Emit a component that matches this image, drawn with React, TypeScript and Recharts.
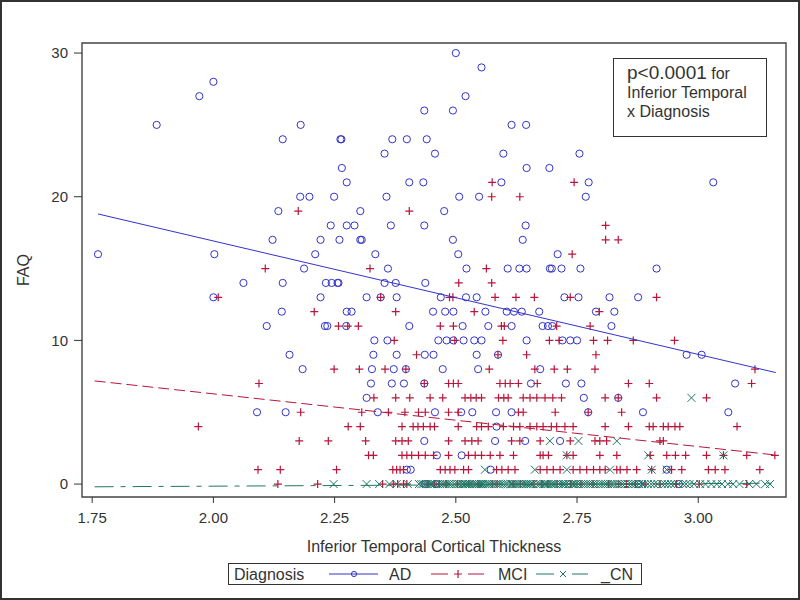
import React from "react";
import { ComposedChart, Scatter, XAxis, YAxis, ReferenceArea, Legend, Label } from "recharts";

const FONT = '"Liberation Sans", Arial, sans-serif';
const INK = "#333";
const AD_COLOR = "#3333CC";
const MCI_COLOR = "#B8163A";
const CN_COLOR = "#1E7766";

// axis setup (thickness in mm, FAQ score)
const xDomain: [number, number] = [1.729, 3.181];
const yDomain: [number, number] = [-0.9, 30.7];
const xTicks = [1.75, 2.0, 2.25, 2.5, 2.75, 3.0];
const yTicks = [0, 10, 20, 30];

// [inferior temporal thickness, FAQ], grouped by FAQ row
const adPoints: [number, number][] = [
  [2.5, 30], [2.553, 29], [2.0, 28], [1.971, 27], [2.52, 27], [2.435, 26], [2.494, 26],
  [1.883, 25], [2.18, 25], [2.615, 25], [2.645, 25],
  [2.143, 24], [2.262, 24], [2.264, 24], [2.369, 24], [2.399, 24], [2.44, 24],
  [2.353, 23], [2.457, 23], [2.598, 23], [2.755, 23],
  [2.265, 22], [2.646, 22], [2.693, 22],
  [2.275, 21], [2.404, 21], [2.433, 21], [2.594, 21], [2.774, 21], [3.031, 21],
  [2.179, 20], [2.198, 20], [2.249, 20], [2.357, 20], [2.507, 20], [2.548, 20], [2.768, 20],
  [2.134, 19], [2.303, 19], [2.476, 19],
  [2.242, 18], [2.275, 18], [2.291, 18], [2.366, 18], [2.435, 18], [2.644, 18],
  [2.122, 17], [2.221, 17], [2.26, 17], [2.303, 17], [2.306, 17], [2.494, 17], [2.638, 17],
  [1.762, 16], [2.002, 16], [2.21, 16], [2.334, 16], [2.505, 16], [2.71, 16],
  [2.187, 15], [2.36, 15], [2.522, 15], [2.607, 15], [2.631, 15], [2.646, 15], [2.694, 15],
  [2.698, 15], [2.718, 15], [2.757, 15], [2.914, 15],
  [2.062, 14], [2.143, 14], [2.232, 14], [2.244, 14], [2.256, 14], [2.258, 14], [2.353, 14],
  [2.376, 14], [2.437, 14],
  [2.0, 13], [2.221, 13], [2.316, 13], [2.345, 13], [2.378, 13], [2.469, 13], [2.521, 13],
  [2.543, 13], [2.724, 13], [2.753, 13], [2.817, 13], [2.876, 13],
  [2.141, 12], [2.275, 12], [2.285, 12], [2.453, 12], [2.478, 12], [2.495, 12], [2.561, 12],
  [2.605, 12], [2.62, 12], [2.636, 12], [2.672, 12], [2.789, 12], [2.827, 12],
  [2.11, 11], [2.23, 11], [2.235, 11], [2.274, 11], [2.404, 11], [2.514, 11], [2.567, 11],
  [2.615, 11], [2.679, 11], [2.69, 11], [2.699, 11], [2.821, 11],
  [2.332, 10], [2.359, 10], [2.464, 10], [2.481, 10], [2.495, 10], [2.516, 10], [2.538, 10],
  [2.553, 10], [2.646, 10], [2.72, 10], [2.736, 10], [2.75, 10],
  [2.157, 9], [2.33, 9], [2.378, 9], [2.436, 9], [2.454, 9], [2.543, 9], [2.587, 9],
  [2.976, 9], [3.007, 9],
  [2.184, 8], [2.327, 8], [2.372, 8], [2.397, 8], [2.473, 8], [2.546, 8], [2.674, 8],
  [2.325, 7], [2.368, 7], [2.393, 7], [2.435, 7], [2.655, 7], [2.727, 7], [2.759, 7], [3.076, 7],
  [2.316, 6], [2.764, 6], [2.835, 6],
  [2.09, 5], [2.149, 5], [2.339, 5], [2.457, 5], [2.511, 5], [2.534, 5], [2.583, 5],
  [2.615, 5], [2.773, 5], [2.886, 5], [3.062, 5],
  [2.584, 4], [2.435, 3], [2.581, 3], [2.643, 3], [2.715, 3], [2.461, 2], [2.512, 2],
  [2.399, 1], [2.407, 1], [2.572, 1], [2.935, 1],
  [2.437, 0], [2.459, 0], [2.877, 0], [2.96, 0],
];

const mciPoints: [number, number][] = [
  [2.575, 21], [2.744, 21], [2.574, 20], [2.632, 20], [2.175, 19], [2.404, 19], [2.809, 18],
  [2.809, 17], [2.835, 17], [2.74, 16], [2.107, 15], [2.323, 15], [2.563, 15],
  [2.506, 14], [2.574, 14],
  [2.01, 13], [2.345, 13], [2.487, 13], [2.494, 13], [2.581, 13], [2.624, 13], [2.662, 13],
  [2.736, 13], [2.914, 13],
  [2.208, 12], [2.376, 12], [2.538, 12], [2.796, 12],
  [2.258, 11], [2.277, 11], [2.299, 11], [2.468, 11], [2.495, 11], [2.594, 11], [2.6, 11],
  [2.708, 11], [2.777, 11],
  [2.373, 10], [2.498, 10], [2.597, 10], [2.693, 10], [2.713, 10], [2.784, 10], [2.813, 10],
  [2.866, 10], [2.951, 10],
  [2.419, 9], [2.587, 9], [2.646, 9], [2.789, 9],
  [2.249, 8], [2.301, 8], [2.354, 8], [2.397, 8], [2.569, 8], [2.663, 8], [2.703, 8],
  [2.73, 8], [2.787, 8], [3.117, 8],
  [2.094, 7], [2.435, 7], [2.485, 7], [2.495, 7], [2.505, 7], [2.591, 7], [2.602, 7],
  [2.612, 7], [2.629, 7], [2.668, 7], [2.856, 7], [2.899, 7], [3.11, 7],
  [2.331, 6], [2.376, 6], [2.405, 6], [2.447, 6], [2.473, 6], [2.519, 6], [2.531, 6],
  [2.542, 6], [2.553, 6], [2.588, 6], [2.599, 6], [2.608, 6], [2.639, 6], [2.653, 6],
  [2.667, 6], [2.684, 6], [2.7, 6], [2.718, 6], [2.808, 6], [2.835, 6], [2.914, 6], [3.017, 6],
  [2.18, 5], [2.306, 5], [2.361, 5], [2.395, 5], [2.423, 5], [2.437, 5], [2.485, 5],
  [2.505, 5], [2.629, 5], [2.639, 5], [2.705, 5], [2.773, 5], [2.842, 5],
  [1.969, 4], [2.278, 4], [2.303, 4], [2.389, 4], [2.412, 4], [2.422, 4], [2.433, 4],
  [2.447, 4], [2.456, 4], [2.505, 4], [2.543, 4], [2.553, 4], [2.567, 4], [2.598, 4],
  [2.619, 4], [2.632, 4], [2.653, 4], [2.667, 4], [2.68, 4], [2.697, 4], [2.708, 4],
  [2.725, 4], [2.742, 4], [2.808, 4], [2.856, 4], [2.899, 4], [2.907, 4], [2.928, 4],
  [2.938, 4], [2.952, 4], [2.962, 4], [3.08, 4],
  [2.177, 3], [2.237, 3], [2.314, 3], [2.376, 3], [2.389, 3], [2.402, 3], [2.485, 3],
  [2.519, 3], [2.533, 3], [2.546, 3], [2.615, 3], [2.632, 3], [2.674, 3], [2.736, 3],
  [2.787, 3], [2.797, 3], [2.811, 3], [2.921, 3], [2.928, 3],
  [2.32, 2], [2.33, 2], [2.389, 2], [2.399, 2], [2.409, 2], [2.423, 2], [2.437, 2],
  [2.454, 2], [2.485, 2], [2.526, 2], [2.54, 2], [2.553, 2], [2.571, 2], [2.591, 2],
  [2.619, 2], [2.674, 2], [2.68, 2], [2.691, 2], [2.729, 2], [2.742, 2], [2.797, 2],
  [2.832, 2], [2.901, 2], [2.935, 2], [2.953, 2], [2.974, 2], [3.017, 2], [3.052, 2],
  [3.1, 2], [3.158, 2],
  [2.092, 1], [2.138, 1], [2.254, 1], [2.37, 1], [2.378, 1], [2.385, 1], [2.392, 1],
  [2.468, 1], [2.478, 1], [2.488, 1], [2.498, 1], [2.516, 1], [2.526, 1], [2.584, 1],
  [2.595, 1], [2.608, 1], [2.622, 1], [2.674, 1], [2.688, 1], [2.701, 1], [2.715, 1],
  [2.742, 1], [2.756, 1], [2.77, 1], [2.784, 1], [2.797, 1], [2.808, 1], [2.832, 1],
  [2.839, 1], [2.853, 1], [2.873, 1], [2.904, 1], [2.945, 1], [2.966, 1], [3.021, 1],
  [3.035, 1], [3.055, 1], [3.127, 1],
  [2.133, 0], [2.215, 0], [2.349, 0], [2.371, 0], [2.38, 0], [2.392, 0], [2.399, 0],
  [2.441, 0], [2.456, 0], [2.466, 0], [2.48, 0], [2.503, 0], [2.527, 0], [2.546, 0],
  [2.575, 0], [2.585, 0], [2.618, 0], [2.633, 0], [2.661, 0], [2.677, 0], [2.69, 0],
  [2.709, 0], [2.737, 0], [2.758, 0], [2.783, 0], [2.815, 0], [2.836, 0], [2.852, 0],
  [2.87, 0], [2.89, 0], [2.921, 0], [2.955, 0], [3.002, 0], [3.1, 0],
];

const cnPoints: [number, number][] = [
  [2.986, 6], [2.694, 3], [2.753, 3], [2.832, 3], [2.729, 2], [2.897, 2], [3.052, 2],
  [2.56, 1], [2.663, 1], [2.729, 1], [2.818, 1], [2.904, 1], [2.935, 1],
  [2.248, 0], [2.316, 0], [2.342, 0], [2.363, 0], [2.378, 0], [2.401, 0], [2.424, 0],
  [2.429, 0], [2.433, 0], [2.438, 0], [2.442, 0], [2.447, 0], [2.451, 0], [2.456, 0],
  [2.463, 0], [2.468, 0], [2.473, 0], [2.477, 0], [2.481, 0], [2.486, 0], [2.491, 0],
  [2.497, 0], [2.503, 0], [2.507, 0], [2.512, 0], [2.515, 0], [2.519, 0], [2.522, 0],
  [2.526, 0], [2.529, 0], [2.533, 0], [2.537, 0], [2.541, 0], [2.544, 0], [2.548, 0],
  [2.552, 0], [2.556, 0], [2.561, 0], [2.565, 0], [2.569, 0], [2.574, 0], [2.579, 0],
  [2.584, 0], [2.588, 0], [2.593, 0], [2.598, 0], [2.603, 0], [2.607, 0], [2.613, 0],
  [2.616, 0], [2.619, 0], [2.623, 0], [2.627, 0], [2.631, 0], [2.636, 0], [2.641, 0],
  [2.645, 0], [2.648, 0], [2.652, 0], [2.655, 0], [2.659, 0], [2.666, 0], [2.671, 0],
  [2.675, 0], [2.681, 0], [2.684, 0], [2.687, 0], [2.691, 0], [2.696, 0], [2.699, 0],
  [2.702, 0], [2.706, 0], [2.712, 0], [2.717, 0], [2.721, 0], [2.724, 0], [2.727, 0],
  [2.733, 0], [2.739, 0], [2.742, 0], [2.745, 0], [2.748, 0], [2.753, 0], [2.758, 0],
  [2.763, 0], [2.768, 0], [2.773, 0], [2.778, 0], [2.783, 0], [2.788, 0], [2.794, 0],
  [2.799, 0], [2.804, 0], [2.809, 0], [2.814, 0], [2.819, 0], [2.823, 0], [2.827, 0],
  [2.833, 0], [2.838, 0], [2.843, 0], [2.849, 0], [2.855, 0], [2.861, 0], [2.866, 0],
  [2.871, 0], [2.878, 0], [2.884, 0], [2.889, 0], [2.896, 0], [2.903, 0], [2.909, 0],
  [2.916, 0], [2.925, 0], [2.931, 0], [2.937, 0], [2.944, 0], [2.951, 0], [2.958, 0],
  [2.969, 0], [2.975, 0], [2.982, 0], [2.991, 0], [3.004, 0], [3.015, 0], [3.027, 0],
  [3.038, 0], [3.049, 0], [3.061, 0], [3.072, 0], [3.085, 0], [3.105, 0], [3.12, 0],
  [3.138, 0], [3.148, 0],
];

// fitted regression lines (end points as drawn)
const adFit: [number, number][] = [[1.762, 18.8], [3.16, 7.76]];
const mciFit: [number, number][] = [[1.755, 7.18], [3.16, 2.02]];
const cnFit: [number, number][] = [[1.755, -0.19], [3.16, 0.06]];

const toXY = (pts: [number, number][]) => pts.map(([x, y]) => ({ x, y }));

const OpenCircle = (p: any) => (
  <circle cx={p.cx} cy={p.cy} r={3.6} fill="none" stroke={AD_COLOR} strokeWidth={1} />
);
const PlusMark = (p: any) => (
  <path
    d={`M${p.cx - 4},${p.cy}H${p.cx + 4}M${p.cx},${p.cy - 4}V${p.cy + 4}`}
    stroke={MCI_COLOR}
    strokeWidth={1.2}
    fill="none"
  />
);
const XMark = (p: any) => (
  <path
    d={`M${p.cx - 4},${p.cy - 4}L${p.cx + 4},${p.cy + 4}M${p.cx - 4},${p.cy + 4}L${p.cx + 4},${p.cy - 4}`}
    stroke={CN_COLOR}
    strokeWidth={1}
    fill="none"
  />
);
const NoMark = () => <g />;

function LegendBox() {
  return (
    <div
      style={{
        width: 414,
        height: 22,
        boxSizing: "border-box",
        border: `1px solid ${INK}`,
        background: "#fff",
      }}
    >
      <svg width={412} height={20} style={{ display: "block" }}>
        <g fontFamily={FONT} fontSize={16} fill={INK}>
          <text x={5} y={16}>Diagnosis</text>
          <line x1={100} x2={149} y1={10} y2={10} stroke={AD_COLOR} />
          <circle cx={125} cy={10} r={2.6} fill="none" stroke={AD_COLOR} />
          <text x={160} y={16}>AD</text>
          <line x1={202} x2={219} y1={10} y2={10} stroke={MCI_COLOR} />
          <line x1={239} x2={255} y1={10} y2={10} stroke={MCI_COLOR} />
          <path d="M225,10H233M229,6V14" stroke={MCI_COLOR} strokeWidth={1.2} />
          <text x={269} y={16}>MCI</text>
          <line x1={307} x2={325} y1={10} y2={10} stroke={CN_COLOR} />
          <line x1={343} x2={359} y1={10} y2={10} stroke={CN_COLOR} />
          <path d="M331,7L337,13M331,13L337,7" stroke={CN_COLOR} />
          <text x={372} y={16}>_CN</text>
        </g>
      </svg>
    </div>
  );
}

const XTitle = (props: any) => {
  const vb = props.viewBox;
  return (
    <text
      x={vb.x + vb.width / 2}
      y={vb.y + 49}
      textAnchor="middle"
      dominantBaseline="central"
      fontFamily={FONT}
      fontSize={16}
      fill={INK}
    >
      Inferior Temporal Cortical Thickness
    </text>
  );
};

const YTitle = (props: any) => {
  const vb = props.viewBox;
  const cx = vb.x + 23;
  const cy = vb.y + vb.height / 2;
  return (
    <text
      x={cx}
      y={cy}
      transform={`rotate(-90, ${cx}, ${cy})`}
      textAnchor="middle"
      dominantBaseline="central"
      fontFamily={FONT}
      fontSize={16}
      fill={INK}
    >
      FAQ
    </text>
  );
};

export default function App() {
  const tickStyle = { fontFamily: FONT, fontSize: 15, fill: INK };
  return (
    <div style={{ position: "absolute", left: 0, top: 0, width: 800, height: 600, background: "#fff" }}>
      <ComposedChart width={800} height={600} margin={{ top: 43, right: 14, left: 0, bottom: 0 }}>
        <XAxis
          type="number"
          dataKey="x"
          domain={xDomain}
          ticks={xTicks}
          allowDataOverflow
          tickFormatter={(v: number) => v.toFixed(2)}
          tick={tickStyle}
          tickSize={6}
          tickMargin={9}
          tickLine={{ stroke: INK }}
          axisLine={false}
          height={81}
        >
          <Label content={XTitle} />
        </XAxis>
        <YAxis
          type="number"
          dataKey="y"
          domain={yDomain}
          ticks={yTicks}
          allowDataOverflow
          tick={tickStyle}
          tickSize={8}
          tickMargin={6}
          tickLine={{ stroke: INK }}
          axisLine={false}
          width={82}
        >
          <Label content={YTitle} />
        </YAxis>
        <ReferenceArea
          x1={xDomain[0]}
          x2={xDomain[1]}
          y1={yDomain[0]}
          y2={yDomain[1]}
          fill="none"
          stroke="#444"
          strokeWidth={1.4}
          ifOverflow="visible"
        />
        <Scatter name="AD" data={toXY(adPoints)} dataKey="y" shape={OpenCircle} isAnimationActive={false} />
        <Scatter name="MCI" data={toXY(mciPoints)} dataKey="y" shape={PlusMark} isAnimationActive={false} />
        <Scatter name="_CN" data={toXY(cnPoints)} dataKey="y" shape={XMark} isAnimationActive={false} />
        <Scatter
          data={toXY(adFit)}
          dataKey="y"
          shape={NoMark}
          line={{ stroke: AD_COLOR, strokeWidth: 1 }}
          isAnimationActive={false}
        />
        <Scatter
          data={toXY(mciFit)}
          dataKey="y"
          shape={NoMark}
          line={{ stroke: MCI_COLOR, strokeWidth: 1, strokeDasharray: "11 5" }}
          isAnimationActive={false}
        />
        <Scatter
          data={toXY(cnFit)}
          dataKey="y"
          shape={NoMark}
          line={{ stroke: CN_COLOR, strokeWidth: 1, strokeDasharray: "19 7 5 7" }}
          isAnimationActive={false}
        />
        <Legend
          verticalAlign="bottom"
          content={() => <LegendBox />}
          wrapperStyle={{ left: 228, top: 563, width: 414, height: 22 }}
        />
      </ComposedChart>
      <div
        style={{
          position: "absolute",
          left: 613,
          top: 58,
          width: 154,
          height: 79,
          boxSizing: "border-box",
          border: `1.5px solid ${INK}`,
          background: "#fff",
          fontFamily: FONT,
          color: INK,
          paddingLeft: 13,
          paddingTop: 4,
          lineHeight: "19px",
          fontSize: 16,
        }}
      >
        <div>
          <span style={{ fontSize: 19 }}>p&lt;0.0001</span> for
        </div>
        <div>Inferior Temporal</div>
        <div>x Diagnosis</div>
      </div>
      <div
        style={{
          position: "absolute",
          inset: 0,
          border: "2px solid #333",
          boxSizing: "border-box",
          pointerEvents: "none",
        }}
      />
    </div>
  );
}
